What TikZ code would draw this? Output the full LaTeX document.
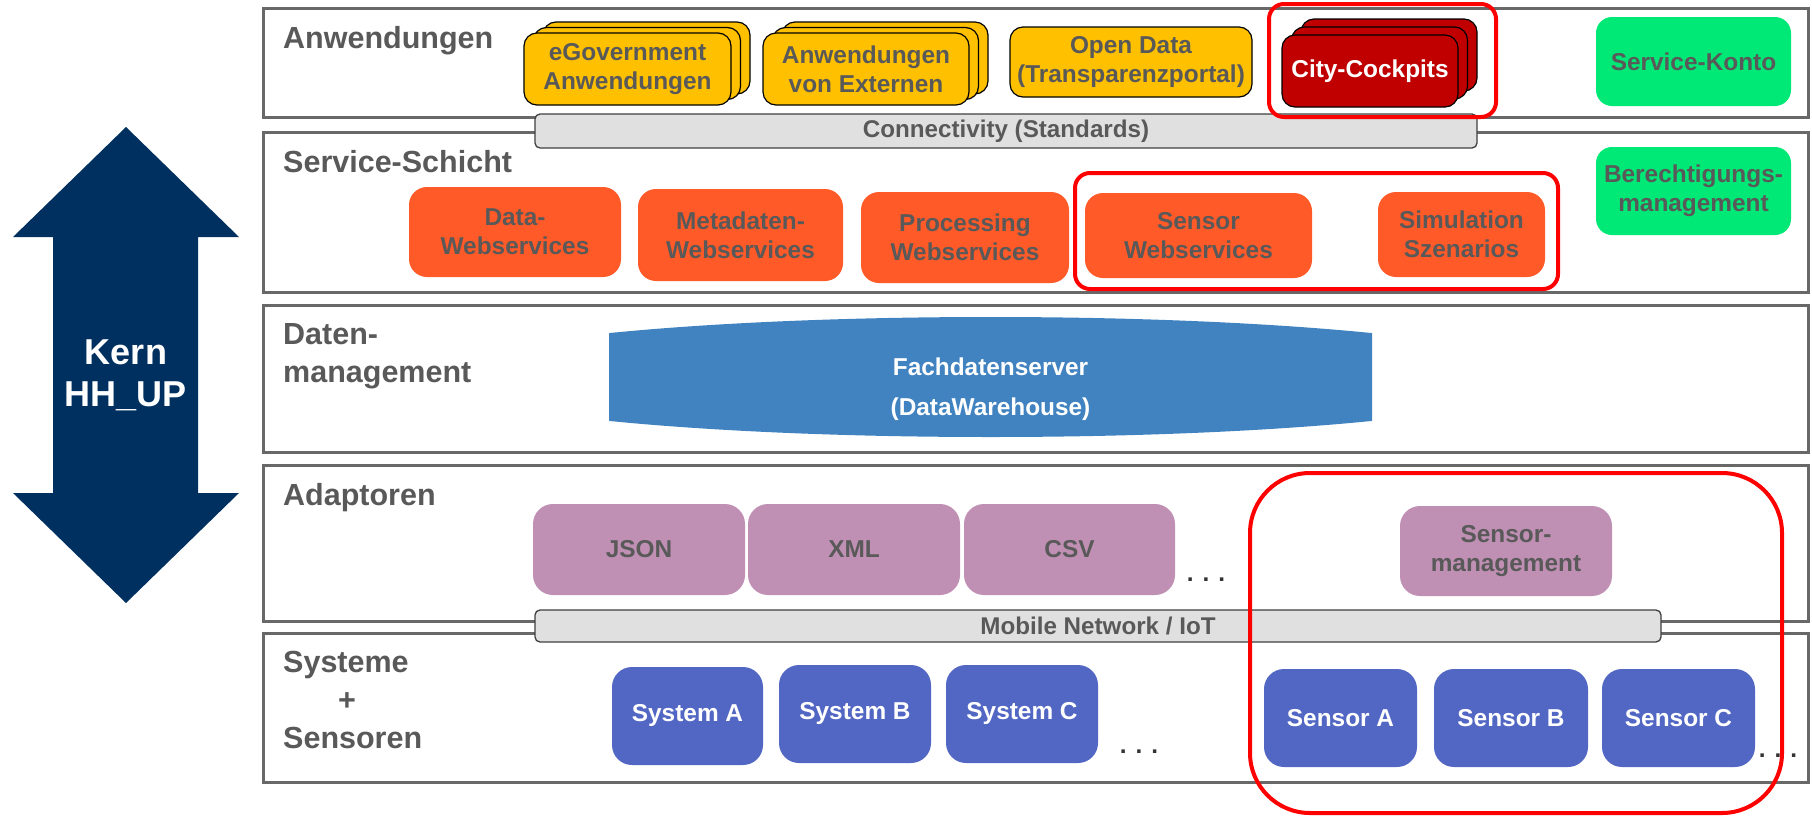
\documentclass[tikz,border=0pt]{standalone}
\usepackage{fontspec}
\setmainfont{Liberation Sans}

\newlength{\du}
\setlength{\du}{1pt}

\definecolor{layergray}{RGB}{104,104,104}
\definecolor{txtgray}{RGB}{89,89,89}
\definecolor{appyellow}{RGB}{255,192,0}
\definecolor{cockpitred}{RGB}{192,0,0}
\definecolor{kontogreen}{RGB}{0,232,118}
\definecolor{svcorange}{RGB}{255,90,40}
\definecolor{dwhblue}{RGB}{65,131,192}
\definecolor{adpmauve}{RGB}{192,144,180}
\definecolor{sysblue}{RGB}{82,103,196}
\definecolor{kernnavy}{RGB}{0,48,96}
\definecolor{bargray}{RGB}{224,224,224}
\definecolor{hired}{RGB}{255,0,0}

\tikzset{
  layer/.style={draw=layergray, line width=3\du, fill=white},
  layerlabel/.style={anchor=base west, inner sep=0pt, text=txtgray,
    font=\fontsize{30.5}{38}\selectfont\bfseries},
  blocktext/.style={align=center, inner sep=0pt,
    font=\fontsize{24.4}{29}\selectfont\bfseries},
  appbox/.style={blocktext, draw=black, line width=1.2\du, fill=appyellow,
    rounded corners=13\du, text=txtgray},
  cockpitbox/.style={appbox, fill=cockpitred, text=white},
  greenbox/.style={blocktext, fill=kontogreen, rounded corners=16\du, text=txtgray},
  svcbox/.style={blocktext, fill=svcorange, rounded corners=18\du, text=txtgray},
  adpbox/.style={blocktext, fill=adpmauve, rounded corners=20\du, text=txtgray},
  sysbox/.style={blocktext, fill=sysblue, rounded corners=20\du, text=white},
  netbar/.style={blocktext, draw=black!75, line width=1.3\du, fill=bargray,
    rounded corners=5\du, text=txtgray, font=\fontsize{24.2}{28}\selectfont\bfseries},
  hilite/.style={draw=hired, line width=4\du},
  moredots/.style={anchor=base, inner sep=0pt, text=black!80,
    font=\fontsize{24.4}{29}\selectfont\bfseries},
  kerntext/.style={align=center, inner sep=0pt, text=white,
    font=\fontsize{36}{42}\selectfont\bfseries}
}

\begin{document}
\begin{tikzpicture}
\pgftransformyscale{-1.000000}
\useasboundingbox[fill=white] (0\du,0\du) rectangle (1812\du,817\du);

% layers
\draw[layer] (263\du,8\du) rectangle (1808\du,117\du);
\draw[layer] (263\du,132\du) rectangle (1808\du,292\du);
\draw[layer] (263\du,305\du) rectangle (1808\du,452\du);
\draw[layer] (263\du,465\du) rectangle (1808\du,621\du);
\draw[layer] (263\du,633\du) rectangle (1808\du,782\du);

% setfont left to latex
\node[layerlabel] (anwlbl) at (283\du,48\du) {Anwendungen};
\node[layerlabel] (svclbl) at (283\du,172\du) {Service-Schicht};
\node[layerlabel, anchor=north west, align=left] (datlbl) at (283\du,323\du) {Daten-\\management};
\node[layerlabel] (adplbl) at (283\du,505\du) {Adaptoren};
\node[layerlabel, anchor=north west, align=left] (syslbl) at (283\du,651\du) {Systeme\\\hspace*{55\du}+\\Sensoren};

% Kern arrow
\fill[kernnavy] (126\du,127\du)--(239\du,237\du)--(198\du,237\du)--(198\du,493\du)--(239\du,493\du)
  --(126\du,603\du)--(13\du,493\du)--(53\du,493\du)--(53\du,237\du)--(13\du,237\du)--cycle;
\node[kerntext] (kern) at (126\du,375\du) {Kern\\HH\_UP};

% Anwendungen
\node[appbox, minimum width=207\du, minimum height=72\du] (egov3) at (646.5\du,58\du) {};
\node[appbox, minimum width=207\du, minimum height=72\du] (egov2) at (637\du,63.5\du) {};
\node[appbox, minimum width=207\du, minimum height=72\du] (egov) at (627.5\du,69\du) {eGovernment\\Anwendungen};
\node[appbox, minimum width=206\du, minimum height=72\du] (extern3) at (885\du,58\du) {};
\node[appbox, minimum width=206\du, minimum height=72\du] (extern2) at (875.5\du,63.5\du) {};
\node[appbox, minimum width=206\du, minimum height=72\du] (extern) at (866\du,69\du) {Anwendungen\\von Externen};
\node[appbox, minimum width=242\du, minimum height=70\du] (opendata) at (1131\du,62\du) {Open Data\\(Transparenzportal)};
\node[cockpitbox, minimum width=176\du, minimum height=72\du] (cockpit3) at (1389\du,55\du) {};
\node[cockpitbox, minimum width=176\du, minimum height=72\du] (cockpit2) at (1379.5\du,63\du) {};
\node[cockpitbox, minimum width=176\du, minimum height=72\du] (cockpit) at (1370\du,71\du) {City-Cockpits};
\node[greenbox, minimum width=195\du, minimum height=89\du] (konto) at (1693.5\du,61.5\du) {Service-Konto};

% Service-Schicht
\node[svcbox, minimum width=212\du, minimum height=90\du] (datews) at (515\du,232\du) {Data-\\Webservices};
\node[svcbox, minimum width=205\du, minimum height=92\du] (metaws) at (740.5\du,235\du) {Metadaten-\\Webservices};
\node[svcbox, minimum width=208\du, minimum height=91\du] (procws) at (965\du,237.5\du) {Processing\\Webservices};
\node[svcbox, minimum width=227\du, minimum height=85\du] (sensws) at (1198.5\du,235.5\du) {Sensor\\Webservices};
\node[svcbox, minimum width=167\du, minimum height=85\du] (simul) at (1461.5\du,234.5\du) {Simulation\\Szenarios};
\node[greenbox, minimum width=195\du, minimum height=88\du] (berecht) at (1693.5\du,191\du) {Berechtigungs-\\management};

% Datenmanagement
\begin{scope}
\clip (609\du,300\du) rectangle (1372\du,450\du);
\fill[dwhblue] (990.5\du,377\du) ellipse [x radius=560\du, y radius=60\du];
\end{scope}
\node[blocktext, text=white, font=\fontsize{24.4}{40}\selectfont\bfseries] (fds) at (990.5\du,389\du) {Fachdatenserver\\(DataWarehouse)};

% Adaptoren
\node[adpbox, minimum width=212\du, minimum height=91\du] (json) at (639\du,549.5\du) {JSON};
\node[adpbox, minimum width=212\du, minimum height=91\du] (xml) at (854\du,549.5\du) {XML};
\node[adpbox, minimum width=211\du, minimum height=91\du] (csv) at (1069.5\du,549.5\du) {CSV};
\node[moredots] (adpdots) at (1206\du,581\du) {. . .};
\node[adpbox, minimum width=212\du, minimum height=90\du] (sensmgmt) at (1506\du,551\du) {Sensor-\\management};

% Systeme + Sensoren
\node[sysbox, minimum width=151\du, minimum height=98\du] (sysa) at (687.5\du,716\du) {System A};
\node[sysbox, minimum width=152\du, minimum height=98\du] (sysb) at (855\du,714\du) {System B};
\node[sysbox, minimum width=152\du, minimum height=98\du] (sysc) at (1022\du,714\du) {System C};
\node[moredots] (sysdots) at (1139\du,753\du) {. . .};
\node[sysbox, minimum width=153\du, minimum height=98\du] (sensa) at (1340.5\du,718\du) {Sensor A};
\node[sysbox, minimum width=154\du, minimum height=98\du] (sensb) at (1511\du,718\du) {Sensor B};
\node[sysbox, minimum width=153\du, minimum height=98\du] (sensc) at (1678.5\du,718\du) {Sensor C};
\node[moredots] (sensdots) at (1778\du,757\du) {. . .};

% bars
\node[netbar, minimum width=942\du, minimum height=34\du] (connbar) at (1006\du,131\du) {Connectivity (Standards)};
\node[netbar, minimum width=1126\du, minimum height=32\du] (mobilebar) at (1098\du,626\du) {Mobile Network / IoT};

% highlights
\draw[hilite, rounded corners=15\du] (1269\du,4\du) rectangle (1496\du,117\du);
\draw[hilite, rounded corners=15\du] (1075\du,173\du) rectangle (1558\du,289\du);
\draw[hilite, rounded corners=60\du] (1250\du,473\du) rectangle (1782\du,813\du);
\end{tikzpicture}
\end{document}
